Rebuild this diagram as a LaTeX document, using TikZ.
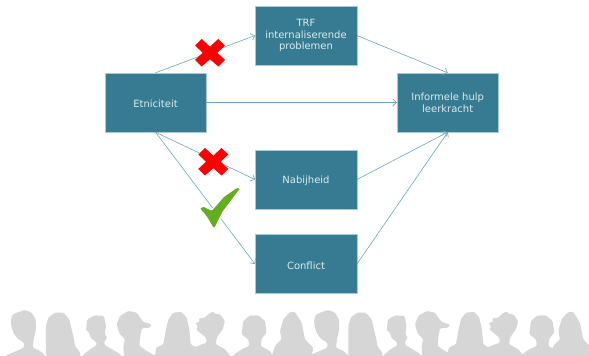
\documentclass[tikz,border=0pt]{standalone}
\usepackage{fontspec}
\setmainfont{DejaVu Sans}
\usetikzlibrary{arrows.meta}
\definecolor{boxfill}{HTML}{367B91}
\definecolor{boxedge}{HTML}{A9CBD6}
\definecolor{linkcol}{HTML}{6FA5B8}
\definecolor{boxtext}{HTML}{DCEBF0}
\definecolor{crowd}{HTML}{D6D6D6}
\definecolor{crossred}{HTML}{FF0000}
\definecolor{tickgreen}{HTML}{62AE1E}
\tikzset{
  boxnode/.style={draw=boxedge,line width=0.4pt,fill=boxfill,text=boxtext,minimum width=101.5pt,minimum height=59pt,
    inner sep=0pt,align=center,font=\fontsize{10}{11.6}\selectfont,
    execute at begin node={\rule{0pt}{10.4pt}}},
  linkline/.style={draw=linkcol,line width=0.6pt,-{Straight Barb[length=3.5pt,width=7pt,line width=0.6pt]}},
  person/.style={fill=crowd,rounded corners=1.2pt},
  crossmark/.pic={\fill[crossred] (-8.3,-13.8)--(0,-6)--(8.3,-13.8)--(15,-7.2)--(7.3,0)--(15,7.2)--(8.3,13.8)--(0,6.5)--(-8.3,13.8)--(-15,7.2)--(-7.3,0)--(-15,-7.2)--cycle;}
}
\newcommand{\pOne}{(18,181)--(18,178)--(50,165)--(72,155)--(72,140)--(55,130)--(42,115)--(35,95)--(32,75)--(38,55)--(60,47)--(75,42)--(95,50)--(107,70)--(108,100)--(102,125)--(98,155)--(120,165)--(135,178)--(135,181)--cycle}
\newcommand{\pTwo}{(138,181)--(138,150)--(138,90)--(145,65)--(165,50)--(190,50)--(208,70)--(215,100)--(222,130)--(225,150)--(240,170)--(242,181)--cycle}
\newcommand{\pThree}{(245,181)--(270,160)--(290,148)--(290,140)--(272,125)--(265,105)--(258,105)--(262,70)--(285,58)--(312,60)--(318,90)--(314,115)--(322,125)--(312,138)--(315,148)--(345,165)--(368,181)--cycle}
\newcommand{\pFour}{(372,181)--(370,150)--(375,130)--(358,112)--(350,85)--(360,60)--(385,45)--(410,50)--(430,78)--(455,85)--(450,95)--(425,97)--(420,125)--(418,150)--(440,165)--(470,181)--cycle}
\newcommand{\pFive}{(465,181)--(468,155)--(490,145)--(498,100)--(505,70)--(520,50)--(545,48)--(560,65)--(568,100)--(572,145)--(590,155)--(610,181)--cycle}
\newcommand{\pSix}{(590,181)--(580,155)--(620,140)--(618,125)--(600,110)--(588,100)--(594,92)--(586,80)--(600,78)--(596,68)--(615,65)--(625,55)--(640,46)--(645,54)--(660,55)--(675,75)--(668,100)--(650,125)--(648,145)--(675,160)--(692,181)--cycle}
\newcommand{\pSeven}{(695,181)--(725,160)--(748,150)--(745,130)--(725,115)--(730,75)--(750,58)--(775,58)--(795,75)--(800,110)--(785,128)--(782,150)--(810,165)--(820,181)--cycle}
\newcommand{\pEight}{(815,181)--(825,150)--(845,130)--(840,105)--(850,70)--(870,48)--(885,48)--(905,80)--(915,130)--(940,155)--(935,181)--cycle}
\begin{document}
\begin{tikzpicture}[x=1pt,y=-1pt]
\useasboundingbox (0,0) rectangle (589,356);
\fill[white] (0,0) rectangle (589,356);
% crowd
\begin{scope}[x=0.3333pt,y=-0.3333pt,yscale=1,shift={(0,888)}]
\foreach \pp/\oo in {\pOne/0,\pTwo/0,\pThree/0,\pFour/0,\pFive/0,\pSix/0,\pSeven/0,\pEight/0,\pOne/910,\pTwo/907,\pThree/902,\pFour/895,\pFive/878,\pSix/880,\pSeven/863,\pEight/835}{
  \begin{scope}[xshift=\oo*0.3333pt]
    \path[person] \pp;
  \end{scope}
}
\end{scope}
% boxes
\node[boxnode] (etn) at (155.5,102.5) {Etniciteit};
\node[boxnode] (trf) at (306,35.5) {TRF\\internaliserende\\problemen};
\node[boxnode] (inf) at (447.7,102.5) {Informele hulp\\leerkracht};
\node[boxnode] (nab) at (306,179.5) {Nabijheid};
\node[boxnode] (con) at (306,264) {Conflict};
% connectors
\draw[linkline] (etn.north) -- (trf.west);
\draw[linkline] (etn.east) -- (inf.west);
\draw[linkline] (etn.south) -- (nab.west);
\draw[linkline] (etn.south) -- (con.west);
\draw[linkline] (trf.east) -- (inf.north);
\draw[linkline] (nab.east) -- (inf.south);
\draw[linkline] (con.east) -- (inf.south);
% marks
\pic at (210,52.7) {crossmark};
\pic at (213.3,161.7) {crossmark};
\begin{scope}[shift={(140,130)},x=0.3333pt,y=-0.3333pt]
\path[fill=tickgreen,draw=white,line width=1.2pt,rounded corners=0.8pt,y=-0.3333pt]
 (178,235)--(190,228)--(215,240)--(250,200)--(290,172)--(303,175)--(280,205)--(250,245)--(225,295)--(218,293)--(200,262)--cycle;
\end{scope}
\end{tikzpicture}
\end{document}
